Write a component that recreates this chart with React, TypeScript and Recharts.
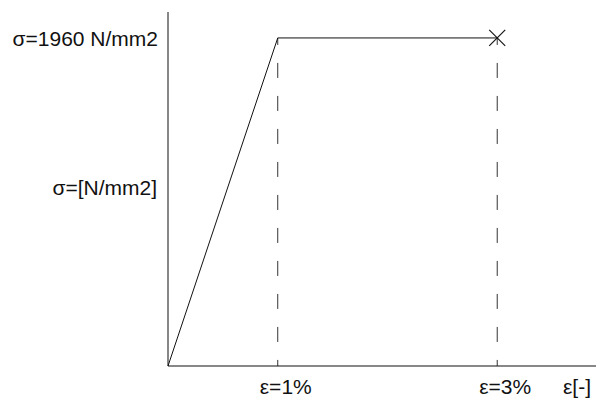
import React from "react";
import { LineChart, Line, XAxis, YAxis, ReferenceLine, ReferenceDot } from "recharts";

// Bilinear stress–strain diagram of prestressing steel
const strainPct = [0, 1, 3];
const stressNmm2 = [0, 1960, 1960];
const strainTicks = [1, 3];
const strainTickLabels = ["ε=1%", "ε=3%"];
const stressTicks = [1960];
const stressTickLabels = ["σ=1960 N/mm2"];
const stressAxisTitle = "σ=[N/mm2]";
const strainAxisTitle = "ε[-]";
const yieldStrain = 1;
const ruptureStrain = 3;
const yieldStress = 1960;

const curve = strainPct.map((e, i) => ({ e, s: stressNmm2[i] }));

const FONT = "'Liberation Sans', Arial, sans-serif";
const FS = 21;
const INK = "#111";

const XTick = (props: any) => {
  const { x, payload } = props;
  const idx = strainTicks.indexOf(payload.value);
  return (
    <text x={x + 8} y={386} textAnchor="middle" dominantBaseline="central" fontFamily={FONT} fontSize={FS} fill={INK}>
      {strainTickLabels[idx]}
    </text>
  );
};

const YTick = (props: any) => {
  const { y, payload } = props;
  const idx = stressTicks.indexOf(payload.value);
  return (
    <text x={158} y={y + 1} textAnchor="end" dominantBaseline="central" fontFamily={FONT} fontSize={FS} fill={INK}>
      {stressTickLabels[idx]}
    </text>
  );
};

const YTitle = (props: any) => {
  const { viewBox } = props;
  return (
    <text x={viewBox.x + viewBox.width - 11} y={viewBox.y + viewBox.height / 2 - 2} textAnchor="end" dominantBaseline="central" fontFamily={FONT} fontSize={FS} fill={INK}>
      {stressAxisTitle}
    </text>
  );
};

const XTitle = (props: any) => {
  const { viewBox } = props;
  return (
    <text x={viewBox.x + viewBox.width - 19} y={viewBox.y + 20} textAnchor="middle" dominantBaseline="central" fontFamily={FONT} fontSize={FS} fill={INK}>
      {strainAxisTitle}
    </text>
  );
};

const Cross = (props: any) => {
  const { cx, cy } = props;
  const r = 8;
  return (
    <g stroke={INK} strokeWidth={1.2}>
      <line x1={cx - r} y1={cy - r} x2={cx + r} y2={cy + r} />
      <line x1={cx - r} y1={cy + r} x2={cx + r} y2={cy - r} />
    </g>
  );
};

export default function App() {
  return (
    <div style={{ width: 597, height: 399, background: "#fff" }}>
      <style>{`body{margin:0;overflow:hidden}`}</style>
      <LineChart width={597} height={399} data={curve} margin={{ top: 12, right: 1, bottom: 0, left: 0 }}>
        <XAxis
          type="number"
          dataKey="e"
          domain={[0, 3.9]}
          ticks={strainTicks}
          tickLine={false}
          tick={<XTick />}
          axisLine={{ stroke: INK, strokeWidth: 1 }}
          height={33}
          label={<XTitle />}
        />
        <YAxis
          type="number"
          domain={[0, 2115]}
          ticks={stressTicks}
          tickLine={false}
          tick={<YTick />}
          axisLine={{ stroke: INK, strokeWidth: 1 }}
          width={168}
          label={<YTitle />}
        />
        <ReferenceLine
          segment={[{ x: yieldStrain, y: yieldStress }, { x: yieldStrain, y: 0 }]}
          stroke="#333"
          strokeDasharray="15 18"
          strokeDashoffset={8}
          ifOverflow="visible"
        />
        <ReferenceLine
          segment={[{ x: ruptureStrain, y: yieldStress }, { x: ruptureStrain, y: 0 }]}
          stroke="#333"
          strokeDasharray="15 18"
          strokeDashoffset={8}
          ifOverflow="visible"
        />
        <Line type="linear" dataKey="s" stroke={INK} strokeWidth={1} dot={false} isAnimationActive={false} />
        <ReferenceDot x={ruptureStrain} y={yieldStress} r={8} shape={<Cross />} ifOverflow="visible" />
      </LineChart>
    </div>
  );
}
